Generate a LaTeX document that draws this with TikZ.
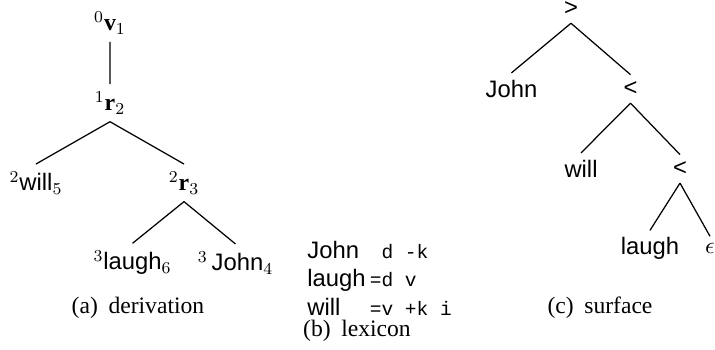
\RequirePackage{fix-cm}
\documentclass[tikz,border=0pt]{standalone}
\usepackage{amsmath}
\usepackage{fontspec}
\setmainfont{Liberation Serif}
\setsansfont{Liberation Sans}
\setmonofont[Scale=0.82]{Liberation Mono}

\newcommand{\lexw}[1]{\textsf{#1}}
\newcommand{\feat}[1]{\texttt{#1}}

\begin{document}
\begin{tikzpicture}%
  [x=0.483pt,y=0.483pt,
   every node/.style={font=\fontsize{11.5}{13.8}\selectfont},
   parent anchor=south,child anchor=north,
   level distance=38.6pt,
   edge from parent/.style={draw,semithick}]
  \tikzstyle{cap node}=[font=\fontsize{11.4}{13.7}\selectfont\rmfamily,inner sep=0]
  \useasboundingbox (0,0) rectangle (715,-349);
  % derivation tree
  \begin{scope}[level 2/.style={sibling distance=71.5pt},
                level 3/.style={sibling distance=49.7pt}]
  \node(v1) at (110,-23){$^0\mathbf{v}_1$}
    child{node(r2){$^1\mathbf{r}_2$}
      child{node(will5){$^2$\lexw{will}$_5$}}
      child{node(r3){$^2\mathbf{r}_3$}
        child{node(laugh6){$^3$\lexw{laugh}$_6$}}
        child{node(john4){$^3\,$\lexw{John}$_4$}}
      }
    };
  \end{scope}
  \node(capa)[cap node] at (138,-308){(a)\hspace{.45em}derivation};
  % lexicon
  \node(lex)[anchor=base west,inner sep=0] at (307,-258){%
    \begin{tabular}[t]{@{}l@{\hspace{2pt}}l@{}}
      \lexw{John}  & \feat{\ d -k}\\
      \lexw{laugh} & \feat{=d v}\\
      \lexw{will}  & \feat{=v +k i}
    \end{tabular}};
  \node(capb)[cap node] at (357,-331){(b)\hspace{.45em}lexicon};
  % surface tree
  \begin{scope}[level 1/.style={sibling distance=57.5pt},
                level 2/.style={sibling distance=47.8pt},
                level 3/.style={sibling distance=29pt}]
  \node(gt) at (571,-9){\lexw{>}}
    child{node(john){\lexw{John}}}
    child{node(lt1){\lexw{<}}
      child{node(will){\lexw{will}}}
      child{node(lt2){\lexw{<}}
        child{node(laugh){\lexw{laugh}}}
        child{node(eps){$\epsilon$}}
      }
    };
  \end{scope}
  \node(capc)[cap node] at (600,-308){(c)\hspace{.45em}surface};
\end{tikzpicture}
\end{document}
